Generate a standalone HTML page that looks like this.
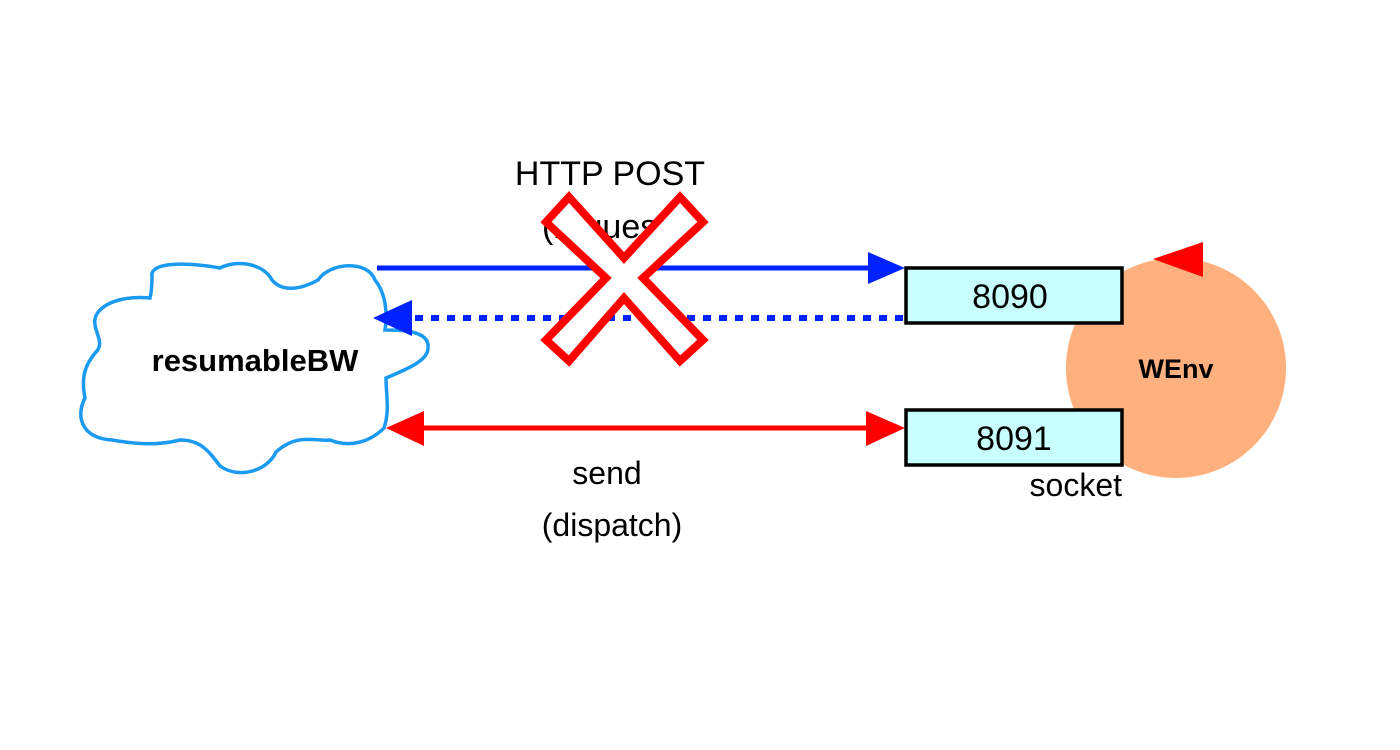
<!DOCTYPE html>
<html><head><style>
body{margin:0;background:#fff;}
svg{display:block;font-family:"Liberation Sans",sans-serif;}
</style></head><body>
<svg width="1400" height="750" viewBox="0 0 1400 750">
<text x="610" y="185" font-size="34" text-anchor="middle">HTTP POST</text>
<text x="610" y="238" font-size="34" text-anchor="middle">(request)</text>
<circle cx="1176" cy="368" r="110" fill="#ffb07f"/>
<polygon points="1153,259 1203,242 1203,277" fill="#ff0000"/>
<text x="1176" y="378" font-size="27" font-weight="bold" text-anchor="middle">WEnv</text>
<path d="M152,276 C150,262 185,262 220,268 C235,260 262,262 272,280 C282,292 300,290 318,280 C330,262 368,260 375,280 C385,292 388,312 385,330 C400,330 430,330 428,348 C428,360 410,368 386,378 C386,395 390,410 384,428 C370,442 350,448 330,440 C318,442 298,432 276,452 C268,470 240,480 220,466 C208,450 200,440 180,440 C160,445 140,445 112,440 C80,438 76,415 85,398 C82,382 82,368 96,352 C108,340 85,325 100,310 C110,300 130,296 150,298 C152,290 152,282 152,276 Z" fill="#fff" stroke="#1a9af0" stroke-width="3.5"/>
<text x="255" y="371" font-size="31" font-weight="bold" text-anchor="middle">resumableBW</text>
<line x1="377" y1="268" x2="872" y2="268" stroke="#0022ff" stroke-width="5"/>
<polygon points="905,268 868,252 868,284" fill="#0022ff"/>
<line x1="415" y1="318" x2="905" y2="318" stroke="#0022ff" stroke-width="6" stroke-dasharray="8,8"/>
<polygon points="373,318 412,300 412,336" fill="#0022ff"/>
<line x1="415" y1="428" x2="872" y2="428" stroke="#ff0000" stroke-width="5"/>
<polygon points="386,428 424,411 424,446" fill="#ff0000"/>
<polygon points="905,428 866,411 866,446" fill="#ff0000"/>
<polygon points="569,197 624,258 680,197 703,222 643,278 703,340 680,361 624,298 569,361 546,340 606,278 546,222" fill="#fff" stroke="#ff0000" stroke-width="8" stroke-linejoin="miter"/>
<rect x="906" y="268" width="216" height="55" fill="#c8ffff" stroke="#000" stroke-width="3.5"/>
<text x="1010" y="308" font-size="34" text-anchor="middle">8090</text>
<rect x="906" y="410" width="216" height="55" fill="#c8ffff" stroke="#000" stroke-width="3.5"/>
<text x="1014" y="450" font-size="34" text-anchor="middle">8091</text>
<text x="1122" y="496" font-size="32" text-anchor="end">socket</text>
<text x="607" y="484" font-size="32" text-anchor="middle">send</text>
<text x="612" y="536" font-size="32" text-anchor="middle">(dispatch)</text>
</svg>
</body></html>
